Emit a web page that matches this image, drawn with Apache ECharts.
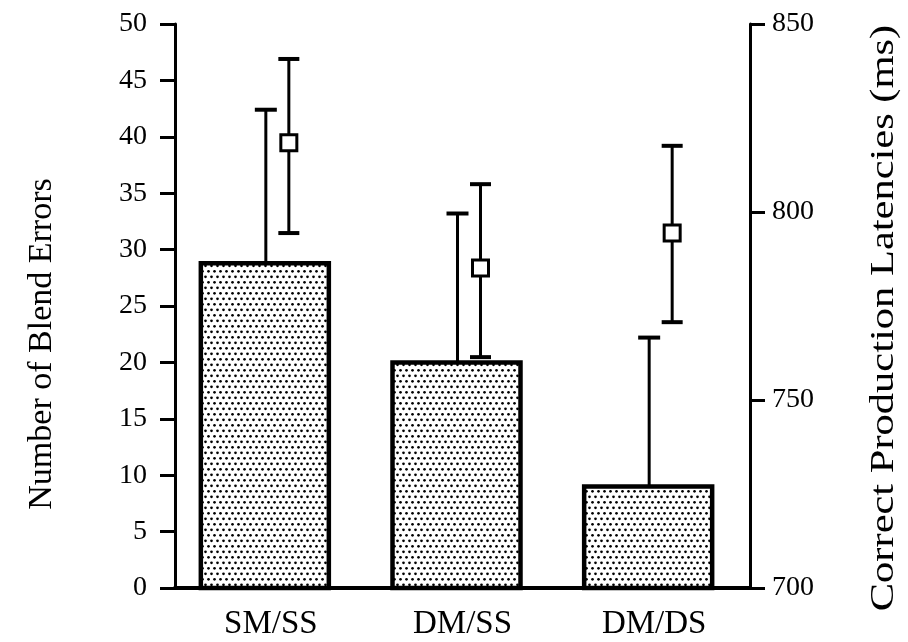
<!DOCTYPE html>
<html>
<head>
<meta charset="utf-8">
<script src="https://cdn.jsdelivr.net/npm/echarts@6/dist/echarts.min.js"></script>
<style>
  html, body { margin: 0; padding: 0; background: #fff; }
  #main { width: 908px; height: 642px; }
</style>
</head>
<body>
<div id="main"></div>
<script>
// ---- data ----
const categories = ['SM/SS', 'DM/SS', 'DM/DS'];
const blendErrors = [28.8, 20.0, 9.0];          // bar heights (left axis)
const blendErrorsUpper = [42.4, 33.2, 22.2];    // top of bar error bars
const latency = [818.4, 785.1, 794.4];          // square markers (right axis, ms)
const latencyUpper = [840.7, 807.4, 817.6];
const latencyLower = [794.4, 761.4, 770.7];
const leftAxisName = 'Number of Blend Errors';
const rightAxisName = 'Correct Production Latencies (ms)';

const FONT = '"Liberation Serif", "Times New Roman", Times, serif';

// stipple pattern for the bars
const pc = document.createElement('canvas');
pc.width = 6; pc.height = 11;
const pctx = pc.getContext('2d');
pctx.fillStyle = '#fff';
pctx.fillRect(0, 0, 6, 11);
pctx.fillStyle = '#000';
pctx.beginPath(); pctx.arc(1.5, 1.8, 1.35, 0, Math.PI * 2); pctx.fill();
pctx.beginPath(); pctx.arc(4.5, 7.3, 1.35, 0, Math.PI * 2); pctx.fill();
const dotPattern = { image: pc, repeat: 'repeat' };

const chart = echarts.init(document.getElementById('main'));

function errorBar(offset, capW, lowCap) {
  return function (params, api) {
    const x = api.value(0);
    const lo = api.coord([x, api.value(1)]);
    const hi = api.coord([x, api.value(2)]);
    const cx = lo[0] + offset;
    const children = [
      { type: 'line', shape: { x1: cx, y1: lo[1], x2: cx, y2: hi[1] },
        style: { stroke: '#000', lineWidth: 3 } },
      { type: 'line', shape: { x1: cx - capW / 2, y1: hi[1], x2: cx + capW / 2, y2: hi[1] },
        style: { stroke: '#000', lineWidth: 4 } }
    ];
    if (lowCap) {
      children.push({ type: 'line', shape: { x1: cx - capW / 2, y1: lo[1], x2: cx + capW / 2, y2: lo[1] },
        style: { stroke: '#000', lineWidth: 4 } });
    }
    return { type: 'group', children: children };
  };
}

const option = {
  backgroundColor: '#fff',
  animation: false,
  grid: { left: 175, right: 158, top: 24, bottom: 54 },
  xAxis: {
    type: 'category',
    data: categories,
    axisLine: { lineStyle: { color: '#000', width: 4 } },
    axisTick: { alignWithLabel: true, length: 14, lineStyle: { color: '#000', width: 3 } },
    axisLabel: { color: '#000', fontFamily: FONT, fontSize: 33, margin: 20 }
  },
  yAxis: [
    {
      type: 'value', position: 'left', min: 0, max: 50, interval: 5,
      axisLine: { show: true, lineStyle: { color: '#000', width: 3 } },
      axisTick: { show: true, length: 15, lineStyle: { color: '#000', width: 3 } },
      axisLabel: { color: '#000', fontFamily: FONT, fontSize: 28, margin: 28 },
      splitLine: { show: false }
    },
    {
      type: 'value', position: 'right', min: 700, max: 850, interval: 50,
      axisLine: { show: true, lineStyle: { color: '#000', width: 3 } },
      axisTick: { show: true, length: 15, lineStyle: { color: '#000', width: 3 } },
      axisLabel: { color: '#000', fontFamily: FONT, fontSize: 28, margin: 22 },
      splitLine: { show: false }
    }
  ],
  graphic: [
    { type: 'text', x: 42, y: 344, rotation: Math.PI / 2,
      style: { text: leftAxisName, fontFamily: FONT, fontSize: 34, fill: '#000',
               align: 'center', verticalAlign: 'middle' } },
    { type: 'text', x: 884, y: 318, rotation: Math.PI / 2, scaleX: 1.25,
      style: { text: rightAxisName, fontFamily: FONT, fontSize: 34, fill: '#000',
               align: 'center', verticalAlign: 'middle' } }
  ],
  series: [
    {
      type: 'custom', xAxisIndex: 0, yAxisIndex: 0, z: 2,
      data: categories.map((c, i) => [i, blendErrors[i]]),
      renderItem: function (params, api) {
        const x = api.value(0);
        const base = api.coord([x, 0]);
        const top = api.coord([x, api.value(1)]);
        const w = 128;
        return {
          type: 'rect',
          shape: { x: base[0] - 6 - w / 2, y: top[1], width: w, height: base[1] - top[1] },
          style: { fill: dotPattern, stroke: '#000', lineWidth: 4.5 }
        };
      }
    },
    {
      type: 'custom', xAxisIndex: 0, yAxisIndex: 0, z: 3,
      data: categories.map((c, i) => [i, blendErrors[i], blendErrorsUpper[i]]),
      renderItem: errorBar(-5, 22, false)
    },
    {
      type: 'custom', xAxisIndex: 0, yAxisIndex: 1, z: 3,
      data: categories.map((c, i) => [i, latencyLower[i], latencyUpper[i]]),
      renderItem: errorBar(18, 21, true)
    },
    {
      type: 'scatter', xAxisIndex: 0, yAxisIndex: 1, z: 4,
      data: categories.map((c, i) => [i, latency[i]]),
      symbol: 'rect', symbolSize: 16, symbolOffset: [18, 0],
      itemStyle: { color: '#fff', borderColor: '#000', borderWidth: 3, opacity: 1 }
    }
  ]
};
chart.setOption(option);
</script>
</body>
</html>
